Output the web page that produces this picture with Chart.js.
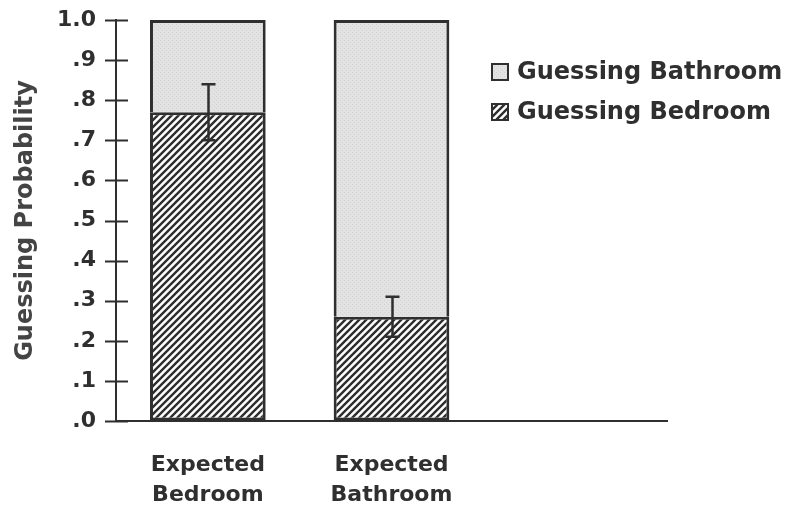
<!DOCTYPE html>
<html>
<head>
<meta charset="utf-8">
<script src="https://cdn.jsdelivr.net/npm/chart.js@4"></script>
<style>
  html, body { margin: 0; padding: 0; background: #fff; }
  #wrap { width: 786px; height: 507px; }
</style>
</head>
<body>
<div id="wrap"><canvas id="c" width="786" height="507"></canvas></div>
<script>
const categories = [['Expected', 'Bedroom'], ['Expected', 'Bathroom'], ''];
const bedroomProb = [0.77, 0.26, null];
const bathroomProb = [0.23, 0.74, null];
const bedroomErr = [0.07, 0.05, null];
const seriesNames = ['Guessing Bathroom', 'Guessing Bedroom'];

const INK = '#2f2f2f';
const FONT = '"DejaVu Sans", Arial, sans-serif';

function hatchPattern() {
  const s = 7;
  const p = document.createElement('canvas');
  p.width = s; p.height = s;
  const g = p.getContext('2d');
  g.fillStyle = '#fff';
  g.fillRect(0, 0, s, s);
  g.strokeStyle = '#2e2e2e';
  g.lineWidth = 2.4;
  g.beginPath();
  g.moveTo(-1, s + 1); g.lineTo(s + 1, -1);
  g.moveTo(-1, 1); g.lineTo(1, -1);
  g.moveTo(s - 1, s + 1); g.lineTo(s + 1, s - 1);
  g.stroke();
  return g.createPattern(p, 'repeat');
}

function dotPattern() {
  const s = 4;
  const p = document.createElement('canvas');
  p.width = s; p.height = s;
  const g = p.getContext('2d');
  g.fillStyle = '#e2e2e2';
  g.fillRect(0, 0, s, s);
  g.fillStyle = '#d2d2d2';
  g.fillRect(0, 0, 1, 1);
  g.fillRect(2, 2, 1, 1);
  return g.createPattern(p, 'repeat');
}

const hatch = hatchPattern();
const dots = dotPattern();

// Tick marks that cross the y axis on both sides
const crossTicks = {
  id: 'crossTicks',
  afterDraw(chart) {
    const y = chart.scales.y;
    const x0 = chart.chartArea.left;
    const ctx = chart.ctx;
    ctx.save();
    ctx.strokeStyle = INK;
    ctx.lineWidth = 2;
    y.ticks.forEach(t => {
      const py = Math.round(y.getPixelForValue(t.value)) + 0.5;
      ctx.beginPath();
      ctx.moveTo(x0 - 11, py);
      ctx.lineTo(x0 + 12, py);
      ctx.stroke();
    });
    ctx.restore();
  }
};

// Error bars on the bedroom series
const errorBars = {
  id: 'errorBars',
  afterDatasetsDraw(chart) {
    const meta = chart.getDatasetMeta(1);
    const y = chart.scales.y;
    const ctx = chart.ctx;
    ctx.save();
    ctx.strokeStyle = INK;
    ctx.lineWidth = 2.5;
    meta.data.forEach((bar, i) => {
      const v = bedroomProb[i], e = bedroomErr[i];
      if (v == null || e == null) return;
      const cx = Math.round(bar.x) + 0.5;
      const top = y.getPixelForValue(v + e);
      const bot = y.getPixelForValue(v - e);
      ctx.beginPath();
      ctx.moveTo(cx, top); ctx.lineTo(cx, bot);
      ctx.moveTo(cx - 7, top); ctx.lineTo(cx + 7, top);
      ctx.moveTo(cx - 7, bot); ctx.lineTo(cx + 7, bot);
      ctx.stroke();
    });
    ctx.restore();
  }
};

// Legend at the upper right
const sideLegend = {
  id: 'sideLegend',
  afterDraw(chart) {
    const ctx = chart.ctx;
    const fills = [dots, hatch];
    ctx.save();
    ctx.font = 'bold 24px ' + FONT;
    ctx.textBaseline = 'middle';
    seriesNames.forEach((name, i) => {
      const cy = 72 + i * 40;
      ctx.fillStyle = fills[i];
      ctx.fillRect(492, cy - 8, 16, 16);
      ctx.strokeStyle = INK;
      ctx.lineWidth = 2;
      ctx.strokeRect(492, cy - 8, 16, 16);
      ctx.fillStyle = INK;
      ctx.fillText(name, 517, cy + 1);
    });
    ctx.restore();
  }
};

new Chart(document.getElementById('c'), {
  type: 'bar',
  data: {
    labels: categories,
    datasets: [
      {
        label: seriesNames[0],
        data: bathroomProb,
        backgroundColor: dots,
        borderColor: INK,
        borderWidth: 3,
        borderSkipped: 'bottom',
        stack: 's',
        order: 2
      },
      {
        label: seriesNames[1],
        data: bedroomProb,
        backgroundColor: hatch,
        borderColor: INK,
        borderWidth: 3,
        borderSkipped: false,
        stack: 's',
        order: 1
      }
    ]
  },
  options: {
    responsive: false,
    animation: false,
    layout: { padding: { top: 20, right: 119, left: 0, bottom: 0 } },
    datasets: { bar: { categoryPercentage: 1, barPercentage: 0.63 } },
    plugins: { legend: { display: false }, tooltip: { enabled: false } },
    scales: {
      x: {
        stacked: true,
        grid: { display: false, drawTicks: false },
        border: { display: true, color: INK, width: 2 },
        ticks: {
          color: INK,
          padding: 29,
          font: { family: FONT, size: 22, weight: 'bold', lineHeight: 1.36 },
          maxRotation: 0
        },
        afterFit(s) { s.height = 86; }
      },
      y: {
        stacked: true,
        min: 0,
        max: 1,
        grid: {
          display: true,
          drawOnChartArea: false,
          drawTicks: true,
          tickLength: 20,
          color: 'rgba(0,0,0,0)',
          tickColor: 'rgba(0,0,0,0)'
        },
        border: { display: true, color: INK, width: 2 },
        ticks: {
          stepSize: 0.1,
          color: INK,
          padding: 0,
          font: { family: FONT, size: 22, weight: 'bold' },
          callback: v => (Math.abs(v - 1) < 1e-9 ? '1.0' : v.toFixed(1).replace(/^0/, ''))
        },
        title: {
          display: true,
          text: 'Guessing Probability',
          color: '#444',
          font: { family: FONT, size: 24, weight: 'bold' },
          padding: { top: 11, bottom: 0 }
        },
        afterFit(s) { s.width = 116; }
      }
    }
  },
  plugins: [crossTicks, errorBars, sideLegend]
});
</script>
</body>
</html>
